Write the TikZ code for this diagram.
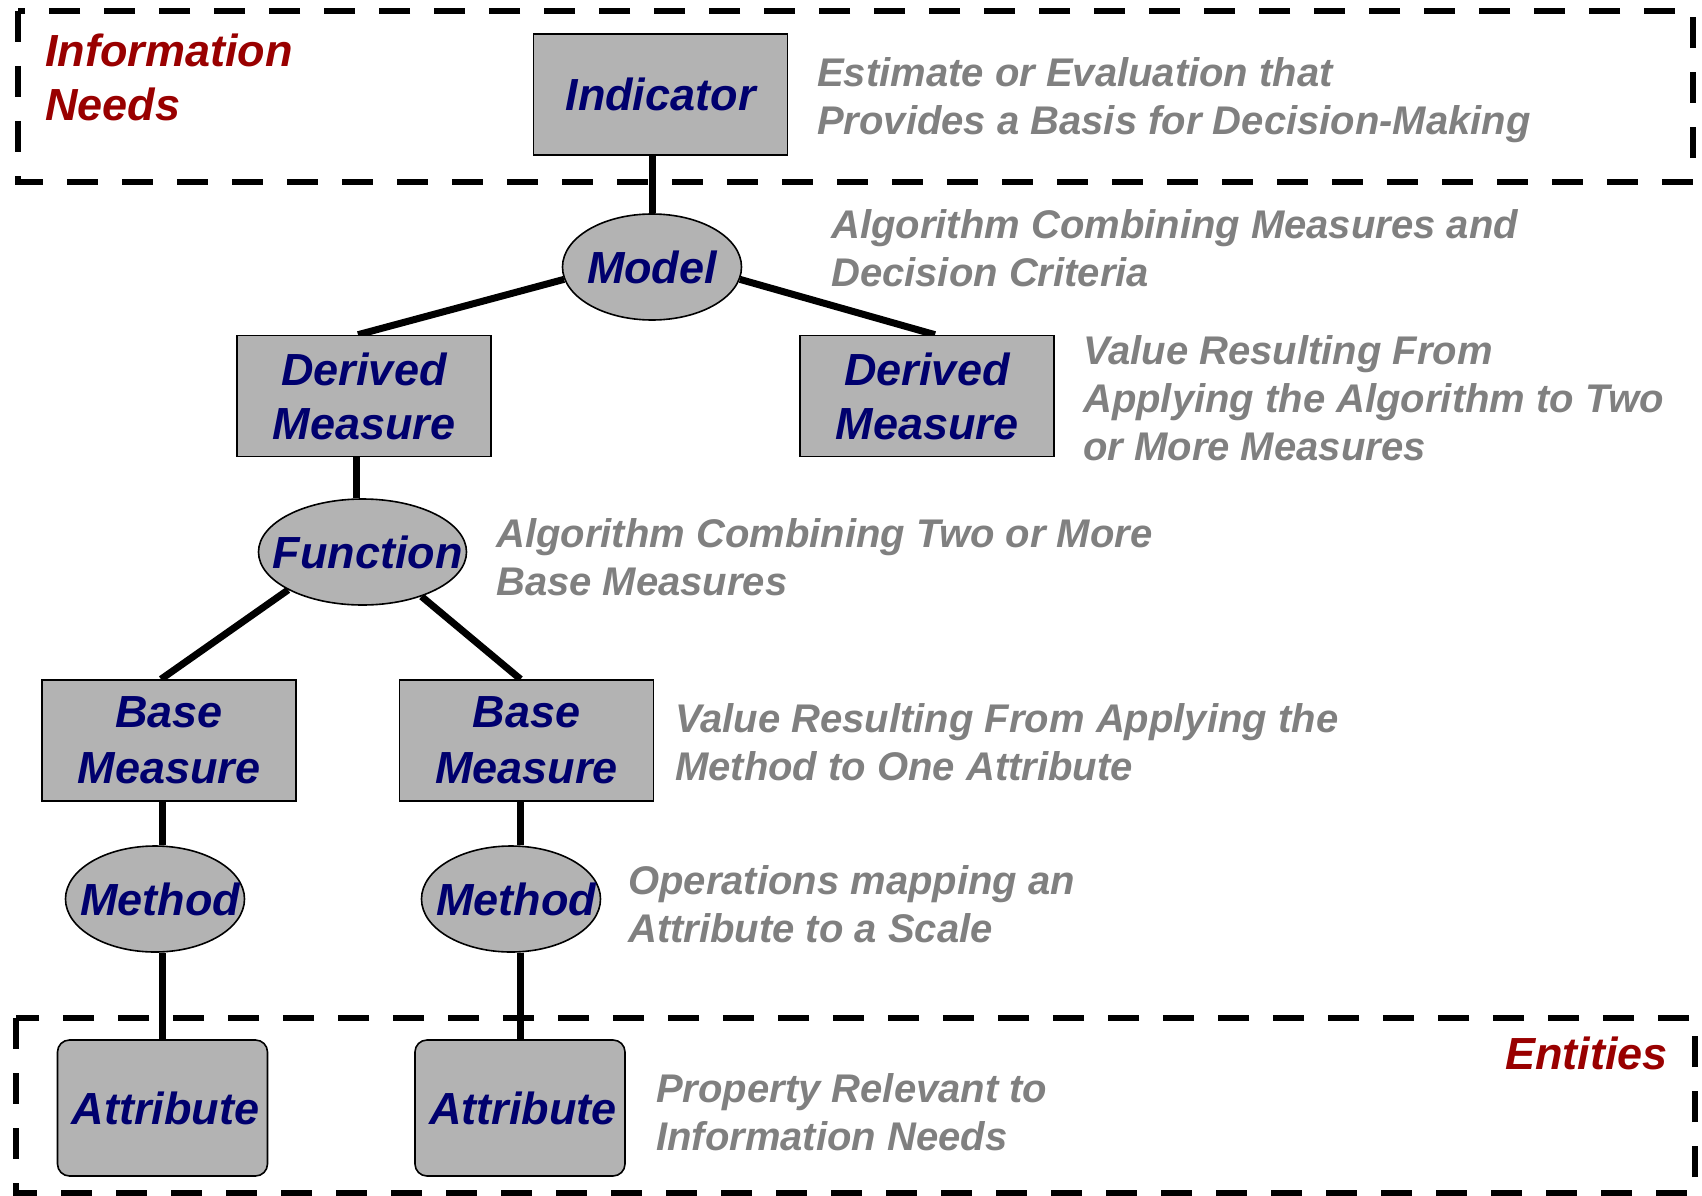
\documentclass[tikz,border=0pt]{standalone}
\usepackage{fontspec}
\setmainfont{Liberation Sans}
\usetikzlibrary{shapes.geometric,backgrounds}
\definecolor{boxfill}{RGB}{179,179,179}
\definecolor{navytext}{RGB}{0,0,110}
\definecolor{redtext}{RGB}{153,0,0}
\definecolor{desctext}{RGB}{128,128,128}
\begin{document}
\begin{tikzpicture}[x=1pt,y=-1pt,
  nodefont/.style={font=\fontsize{45}{54}\selectfont\bfseries\itshape},
  box/.style={draw=black, line width=1.6pt, fill=boxfill, minimum width=254pt, minimum height=121pt, align=center, text=navytext, nodefont, inner sep=0pt},
  attrbox/.style={box, rounded corners=12pt, minimum width=210pt, minimum height=136pt},
  elltext/.style={text=navytext, nodefont, inner sep=0pt},
  ell/.style={ellipse, draw=black, line width=1.6pt, fill=boxfill, inner sep=0pt, minimum width=179pt, minimum height=106pt},
  desc/.style={anchor=west, align=left, inner sep=0pt, text=desctext, font=\fontsize{40}{48}\selectfont\bfseries\itshape},
  redlabel/.style={align=left, inner sep=0pt, text=redtext, nodefont},
  conn/.style={line width=7pt},
  region/.style={line width=6.5pt, dash pattern=on 31pt off 24pt}
]
\useasboundingbox (0,0) rectangle (1702,1196);

% nodes
\node[box] (ind) at (660.5,94.5) {Indicator};
\node[ell, label={[elltext]center:Model}] (model) at (652,267) {};
\node[box] (dml) at (364,396) {Derived\\Measure};
\node[box] (dmr) at (927,396) {Derived\\Measure};
\node[ell, minimum width=208pt, label={[elltext, xshift=5pt]center:Function}] (func) at (362.5,552) {};
\node[box, font=\fontsize{45}{56}\selectfont\bfseries\itshape] (bml) at (169,740.5) {Base\\Measure};
\node[box, font=\fontsize{45}{56}\selectfont\bfseries\itshape] (bmr) at (526.5,740.5) {Base\\Measure};
\node[ell, label={[elltext, xshift=5pt]center:Method}] (methl) at (155,899) {};
\node[ell, label={[elltext, xshift=5pt]center:Method}] (methr) at (511,899) {};
\node[attrbox] (attrl) at (162.5,1108) {\hspace*{6pt}Attribute};
\node[attrbox] (attrr) at (520,1108) {\hspace*{6pt}Attribute};

% descriptions
\node[desc] (d1) at (817,100.5) {Estimate or Evaluation that\\Provides a Basis for Decision-Making};
\node[desc] (d2) at (831,248.5) {Algorithm Combining Measures and\\Decision Criteria};
\node[desc] (d3) at (1083,398) {Value Resulting From\\Applying the Algorithm to Two\\or More Measures};
\node[desc] (d4) at (496,557) {Algorithm Combining Two or More\\Base Measures};
\node[desc] (d5) at (675,742.5) {Value Resulting From Applying the\\Method to One Attribute};
\node[desc] (d6) at (628,904) {Operations mapping an\\Attribute to a Scale};
\node[desc] (d7) at (656,1112) {Property Relevant to\\Information Needs};

% region labels
\node[redlabel, anchor=west] (infoneeds) at (45,77) {Information\\Needs};
\node[redlabel, anchor=east] (entities) at (1668,1053) {Entities};

\begin{scope}[on background layer]
  \draw[region] (18,11) rectangle (1693,182);
  \draw[region] (16,1018) rectangle (1695,1193);
  \draw[conn] (model.north) -- (model.north |- ind.south);
  \draw[conn] (model.188) -- ([xshift=-6pt]dml.north);
  \draw[conn] (model.352) -- ([xshift=8pt]dmr.north);
  \draw[conn] ([xshift=-8pt]dml.south) -- ([xshift=-8pt]dml.south |- func.north);
  \draw[conn] (func.207) -- ([xshift=-8pt]bml.north);
  \draw[conn] (func.323) -- ([xshift=-6pt]bmr.north);
  \draw[conn] (attrl.north |- bml.south) -- (attrl.north |- methl.north);
  \draw[conn] (attrl.north) -- (attrl.north |- methl.south);
  \draw[conn] (attrr.north |- bmr.south) -- (attrr.north |- methr.north);
  \draw[conn] (attrr.north) -- (attrr.north |- methr.south);
\end{scope}
\end{tikzpicture}
\end{document}
